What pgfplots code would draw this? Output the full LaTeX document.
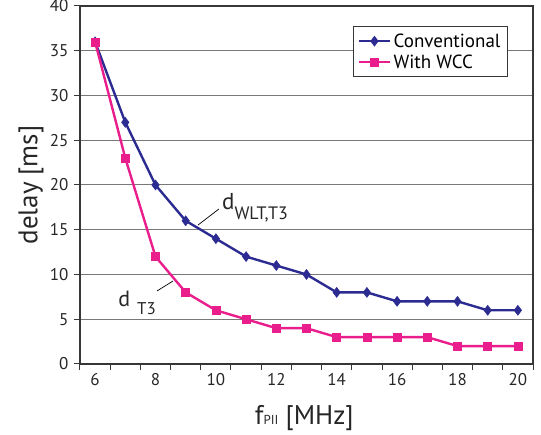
\documentclass[border=0pt]{standalone}
\usepackage{pgfplots}
\pgfplotsset{compat=1.18}
\usepackage{fontspec}
\setmainfont{PT Sans}
\definecolor{convblue}{RGB}{43,43,145}
\definecolor{wccpink}{RGB}{233,30,140}
\definecolor{framegray}{RGB}{55,55,55}
\definecolor{gridgray}{RGB}{120,120,120}

\begin{document}
\begin{tikzpicture}
\begin{axis}[
  scale only axis,
  width=453pt, height=358pt,
  xmin=5.5, xmax=20.5,
  ymin=0, ymax=40,
  xtick={5.5,6.5,...,20.5},
  xticklabels={},
  extra x ticks={6,8,...,20},
  extra x tick style={major tick length=0pt},
  ytick={0,5,...,40},
  tick align=outside,
  tick pos=left,
  major tick length=6pt,
  ymajorgrids,
  grid style={gridgray, line width=1pt},
  axis line style={framegray, line width=1.2pt},
  tick style={framegray, line width=1pt},
  /pgf/number format/assume math mode=true,
  ticklabel style={font=\fontsize{17}{17}\selectfont, text=black!85},
  xticklabel style={yshift=-6pt},
  yticklabel style={xshift=-2pt},
  xlabel={f{\fontsize{13}{13}\selectfont PII} [MHz]},
  ylabel={delay [ms]},
  label style={font=\fontsize{27}{27}\selectfont, text=black!85},
  xlabel style={at={(axis description cs:0.495,0)}, anchor=base, yshift=-61pt, inner sep=0pt},
  ylabel style={at={(axis description cs:-0.08,0.5)}, anchor=south, inner sep=0pt},
  legend style={at={(0.945,0.944)}, anchor=north east, draw=framegray,
    line width=1.2pt, fill=white, font=\fontsize{19}{21}\selectfont,
    inner xsep=5pt, inner ysep=5pt, row sep=2pt},
  legend cell align=left,
  legend image code/.code={\draw[mark repeat=2,mark phase=2,#1]
    plot coordinates {(0pt,0pt) (15pt,0pt) (31pt,0pt)};},
]
\addplot[convblue, line width=2.4pt, mark=diamond*, mark size=5pt,
  mark options={solid, line width=0.5pt}] coordinates {
  (6,36) (7,27) (8,20) (9,16) (10,14) (11,12) (12,11) (13,10)
  (14,8) (15,8) (16,7) (17,7) (18,7) (19,6) (20,6)
};
\addlegendentry{Conventional}
\addplot[wccpink, line width=2.4pt, mark=square*, mark size=4pt,
  mark options={solid, line width=0.5pt}] coordinates {
  (6,36) (7,23) (8,12) (9,8) (10,6) (11,5) (12,4) (13,4)
  (14,3) (15,3) (16,3) (17,3) (18,2) (19,2) (20,2)
};
\addlegendentry{With WCC}

\draw[black, line width=0.7pt] (axis cs:9.41,15.53) -- (axis cs:10.10,17.32);
\node[anchor=base west, inner sep=0pt, text=black!85] at (axis cs:10.20,17.3)
  {\fontsize{23}{23}\selectfont d\raisebox{-10pt}{\fontsize{18}{18}\selectfont WLT,T3}};
\draw[black, line width=0.7pt] (axis cs:8.05,8.16) -- (axis cs:8.58,9.27);
\node[anchor=base west, inner sep=0pt, text=black!85] at (axis cs:6.76,6.37)
  {\fontsize{22}{22}\selectfont d\hspace{7pt}\raisebox{-8pt}{\fontsize{17}{17}\selectfont T3}};
\end{axis}
\pgfresetboundingbox
\path ([shift={(-80pt,-71pt)}]current axis.south west) rectangle ([shift={(8pt,6pt)}]current axis.north east);
\end{tikzpicture}
\end{document}
